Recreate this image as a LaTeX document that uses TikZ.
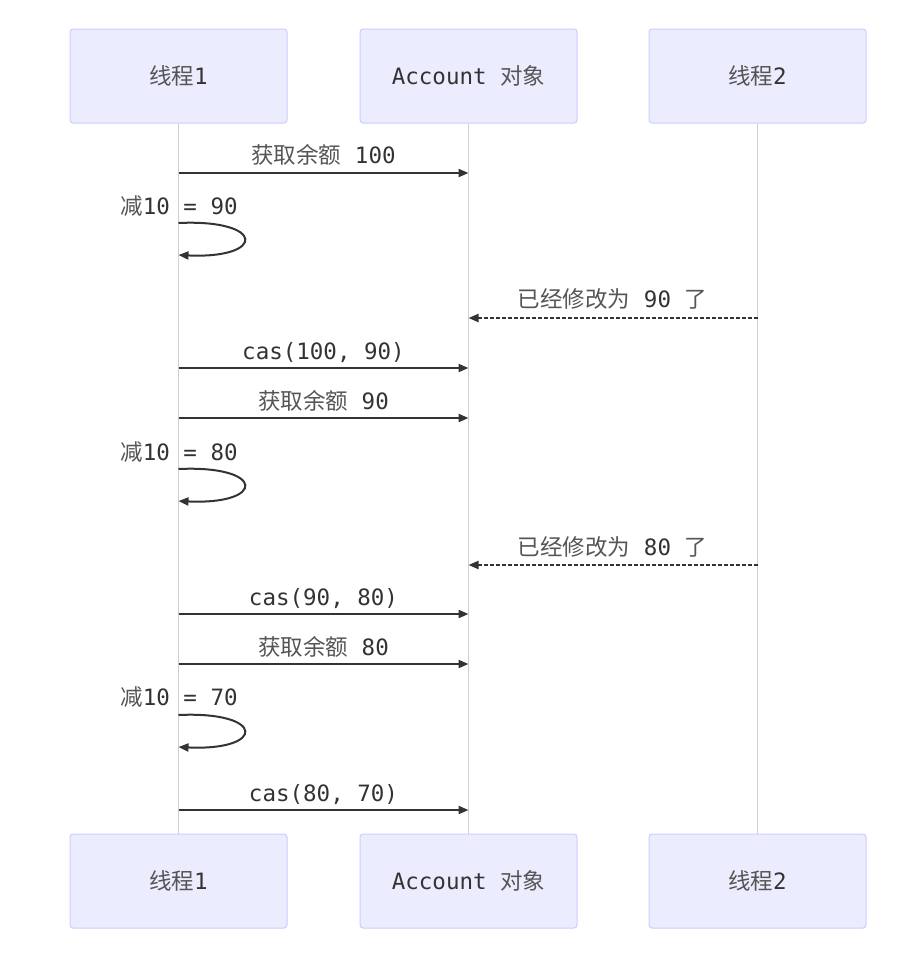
\documentclass[tikz,border=0pt]{standalone}
\usepackage{fontspec}
\setmonofont{DejaVu Sans Mono}
\newfontfamily\cjk{Noto Sans CJK SC}
\usetikzlibrary{arrows.meta}
\definecolor{actfill}{HTML}{ECECFF}
\definecolor{actdraw}{HTML}{CCCCFF}
\definecolor{txt}{HTML}{333333}
\definecolor{zhgray}{HTML}{555555}
\definecolor{lifeline}{HTML}{D0D0D0}
\newcommand{\zh}[1]{{\cjk\color{zhgray}#1}}
\begin{document}
\begin{tikzpicture}[x=1pt,y=-1pt,
  every node/.style={font=\ttfamily\fontsize{22.5}{26}\selectfont, text=txt},
  actor/.style={draw=actdraw, fill=actfill, line width=1pt, rounded corners=3pt,
    minimum width=217pt, minimum height=94pt, inner sep=0pt},
  life/.style={draw=lifeline, line width=1pt},
  msg/.style={draw=txt, line width=2pt, -{Triangle[length=10pt,width=8pt]}},
  reply/.style={msg, dash pattern=on 3.5pt off 2.5pt},
  lbl/.style={anchor=base, inner sep=0pt}]
\useasboundingbox[fill=white] (0,0) rectangle (908,980);
% actors
\node[actor] (a1) at (178.5,76) {\zh{线程}1};
\node[actor] (a2) at (468.5,76) {Account \zh{对象}};
\node[actor] (a3) at (757.5,76) {\zh{线程}2};
\node[actor] (b1) at (178.5,881) {\zh{线程}1};
\node[actor] (b2) at (468.5,881) {Account \zh{对象}};
\node[actor] (b3) at (757.5,881) {\zh{线程}2};
% lifelines
\draw[life] (a1.south) -- (b1.north);
\draw[life] (a2.south) -- (b2.north);
\draw[life] (a3.south) -- (b3.north);
% message end points
\coordinate (m1s) at (178.5,173); \coordinate (m1e) at (468.5,173);
\coordinate (l1s) at (178.5,223); \coordinate (l1e) at (178.5,255);
\coordinate (m3s) at (757.5,318); \coordinate (m3e) at (468.5,318);
\coordinate (m4s) at (178.5,368); \coordinate (m4e) at (468.5,368);
\coordinate (m5s) at (178.5,418); \coordinate (m5e) at (468.5,418);
\coordinate (l2s) at (178.5,469); \coordinate (l2e) at (178.5,501);
\coordinate (m7s) at (757.5,565); \coordinate (m7e) at (468.5,565);
\coordinate (m8s) at (178.5,614); \coordinate (m8e) at (468.5,614);
\coordinate (m9s) at (178.5,664); \coordinate (m9e) at (468.5,664);
\coordinate (l3s) at (178.5,715); \coordinate (l3e) at (178.5,747);
\coordinate (m11s) at (178.5,810); \coordinate (m11e) at (468.5,810);
% messages
\draw[msg] (m1s) -- (m1e);
\node[lbl] (t1) at (323.5,163) {\zh{获取余额} 100};
\node[lbl] (t2) at (179,214) {\zh{减}10 = 90};
\draw[msg] (l1s) .. controls (266,219) and (266,259) .. (l1e);
\draw[reply] (m3s) -- (m3e);
\node[lbl] (t3) at (612.5,307) {\zh{已经修改为} 90 \zh{了}};
\draw[msg] (m4s) -- (m4e);
\node[lbl] (t4) at (323.5,359) {cas(100, 90)};
\draw[msg] (m5s) -- (m5e);
\node[lbl] (t5) at (323.5,409) {\zh{获取余额} 90};
\node[lbl] (t6) at (179,460) {\zh{减}10 = 80};
\draw[msg] (l2s) .. controls (266,465) and (266,505) .. (l2e);
\draw[reply] (m7s) -- (m7e);
\node[lbl] (t7) at (612.5,555) {\zh{已经修改为} 80 \zh{了}};
\draw[msg] (m8s) -- (m8e);
\node[lbl] (t8) at (323.5,605) {cas(90, 80)};
\draw[msg] (m9s) -- (m9e);
\node[lbl] (t9) at (323.5,655) {\zh{获取余额} 80};
\node[lbl] (t10) at (179,705) {\zh{减}10 = 70};
\draw[msg] (l3s) .. controls (266,711) and (266,751) .. (l3e);
\draw[msg] (m11s) -- (m11e);
\node[lbl] (t11) at (323.5,801) {cas(80, 70)};
\end{tikzpicture}
\end{document}
